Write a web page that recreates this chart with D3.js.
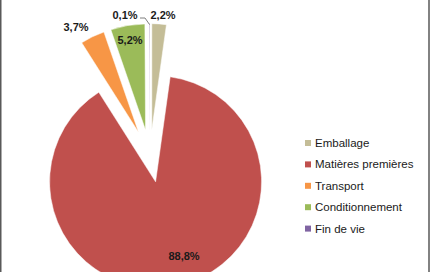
<!DOCTYPE html>
<html>
<head>
<meta charset="utf-8">
<script src="https://cdn.jsdelivr.net/npm/d3@7/dist/d3.min.js"></script>
<style>
  body { margin: 0; background: #fff; }
  svg { display: block; }
  text { font-family: "Liberation Sans", Arial, sans-serif; }
</style>
</head>
<body>
<div id="chart"></div>
<script>
// data
var categories = ["Emballage", "Matières premières", "Transport", "Conditionnement", "Fin de vie"];
var values = [2.2, 88.8, 3.7, 5.2, 0.1];
var labels = ["2,2%", "88,8%", "3,7%", "5,2%", "0,1%"];
var colors = ["#c4bd97", "#c0504d", "#f79646", "#9bbb59", "#8064a2"];

// layout
var svgWidth = 430;
var svgHeight = 272;
var cx = 150, cy = 156;
var radius = 106;
var explode = 26.4;
// label centre offsets from pie centre
var labelOffsets = [[13, -141], [34, 100], [-74, -129], [-20, -116], [-25, -141]];

var svg = d3.select("#chart")
    .append("svg")
    .attr("width", svgWidth)
    .attr("height", svgHeight);

svg.append("rect")
    .attr("x", 0).attr("y", 0)
    .attr("width", svgWidth).attr("height", svgHeight)
    .attr("fill", "#fff");

// borders left and right
svg.append("line").attr("x1", 0.75).attr("x2", 0.75).attr("y1", 0).attr("y2", svgHeight)
    .attr("stroke", "#595959").attr("stroke-width", 1.5);
svg.append("line").attr("x1", 429).attr("x2", 429).attr("y1", 0).attr("y2", svgHeight)
    .attr("stroke", "#595959").attr("stroke-width", 1.5);

var data = categories.map(function(c, i) {
    return { name: c, value: values[i], label: labels[i], color: colors[i], off: labelOffsets[i] };
});

var pie = d3.pie().sort(null).value(function(d) { return d.value; });
var arc = d3.arc().innerRadius(0).outerRadius(radius);

var pieGroup = svg.append("g")
    .attr("transform", `translate(${cx},${cy})`);

var arcs = pie(data);

pieGroup.selectAll("path")
    .data(arcs)
    .enter()
    .append("path")
    .attr("d", arc)
    .attr("fill", d => d.data.color)
    .attr("stroke", "#fff")
    .attr("stroke-width", 0.5)
    .attr("transform", function(d) {
        var a = (d.startAngle + d.endAngle) / 2;
        return `translate(${explode * Math.sin(a)},${-explode * Math.cos(a)})`;
    });

// leader line for the tiny slice
var tiny = arcs[4];
var ta = (tiny.startAngle + tiny.endAngle) / 2;
var tipX = (explode + radius) * Math.sin(ta), tipY = -(explode + radius) * Math.cos(ta);
pieGroup.append("polyline")
    .attr("points", [[-10, -138], [-5, -138], [tipX, tipY + 1]].map(p => p.join(",")).join(" "))
    .attr("fill", "none")
    .attr("stroke", "#7f7f7f")
    .attr("stroke-width", 1);

pieGroup.selectAll("text.lbl")
    .data(arcs)
    .enter()
    .append("text")
    .attr("class", "lbl")
    .attr("x", d => d.data.off[0])
    .attr("y", d => d.data.off[1])
    .attr("text-anchor", "middle")
    .attr("dominant-baseline", "central")
    .attr("font-size", "11px")
    .attr("font-weight", "bold")
    .attr("fill", "#1a1a1a")
    .text(d => d.data.label);

// legend
var legend = svg.append("g")
    .attr("transform", "translate(305,143)");

var rows = legend.selectAll("g")
    .data(data)
    .enter()
    .append("g")
    .attr("transform", (d, i) => `translate(0,${i * 21.4})`);

rows.append("rect")
    .attr("x", 0).attr("y", -3)
    .attr("width", 6).attr("height", 6)
    .attr("fill", d => d.color);

rows.append("text")
    .attr("x", 10)
    .attr("y", 0)
    .attr("dominant-baseline", "central")
    .attr("font-size", "11.5px")
    .attr("fill", "#1a1a1a")
    .text(d => d.name);
</script>
</body>
</html>
